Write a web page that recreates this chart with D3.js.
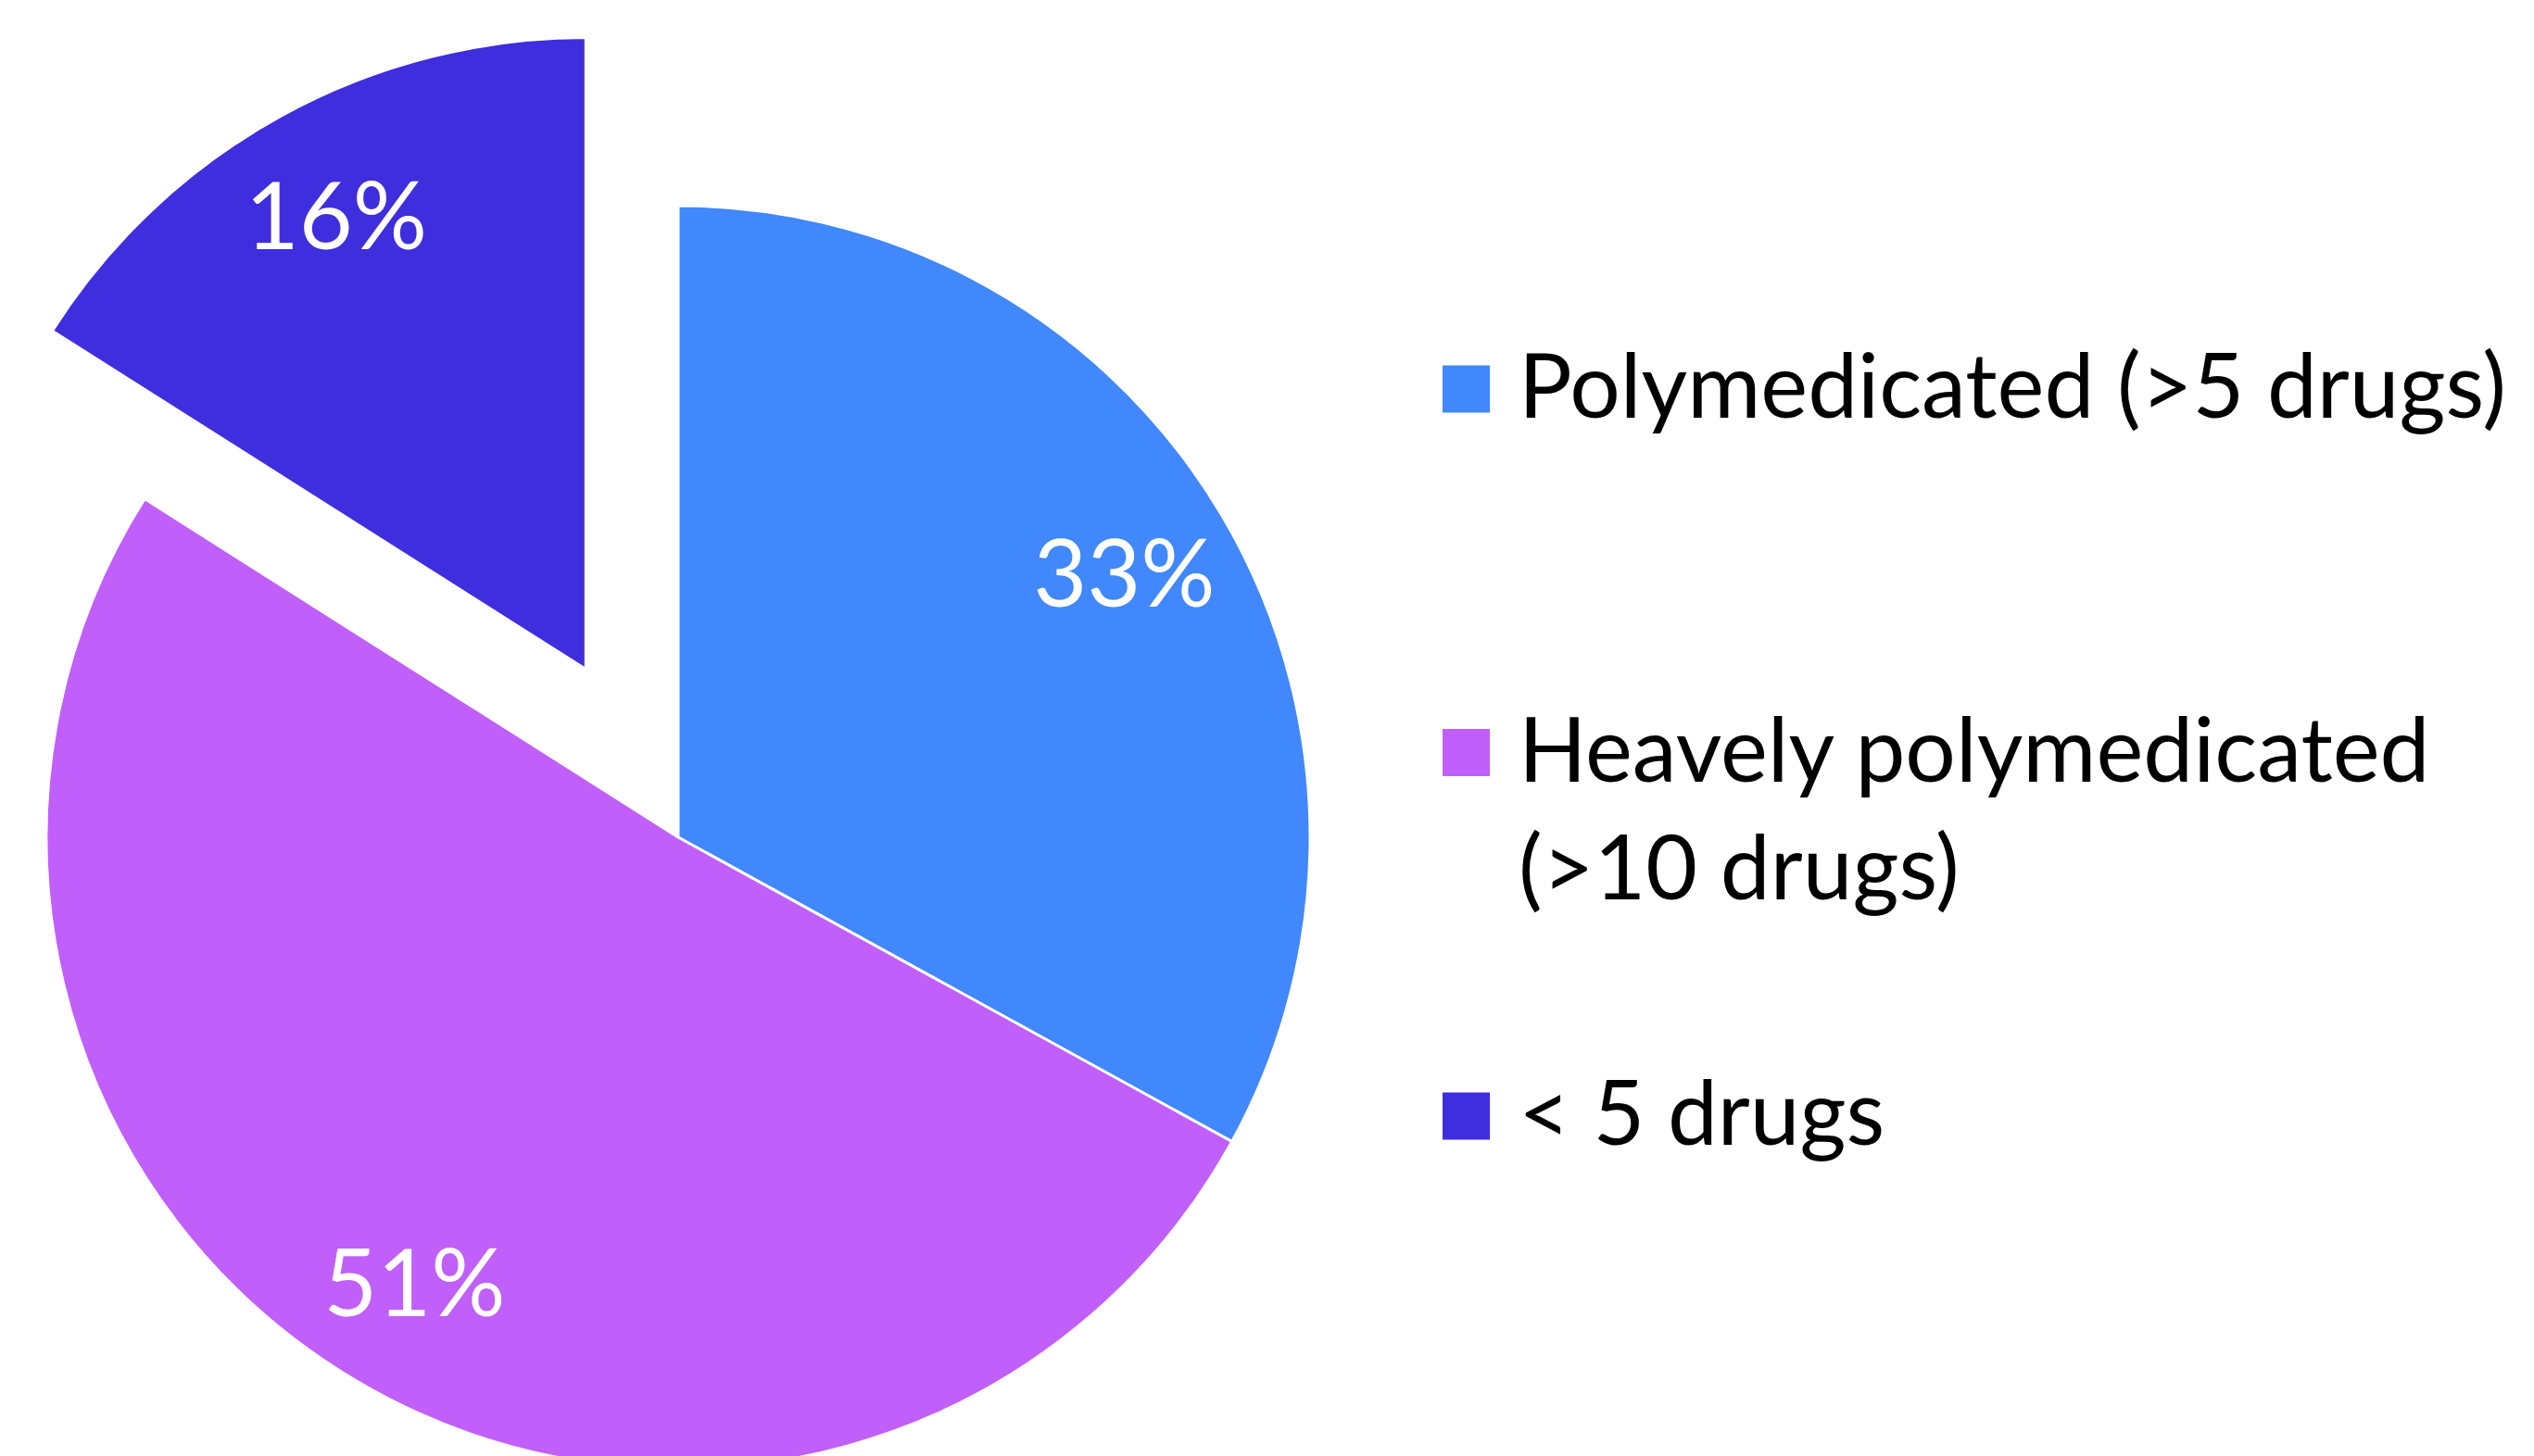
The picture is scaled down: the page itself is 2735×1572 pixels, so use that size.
<!DOCTYPE html>
<html>
<head>
<meta charset="utf-8">
<script src="https://cdn.jsdelivr.net/npm/d3@7"></script>
<style>
  html, body { margin: 0; padding: 0; background: white; }
  svg { display: block; }
</style>
</head>
<body>
<svg></svg>
<script>
const categories = [
    ["Polymedicated (>5 drugs)"],
    ["Heavely polymedicated", "(>10 drugs)"],
    ["< 5 drugs"]
];
const values = [33, 51, 16];
const colors = ["#4088fb", "#c05ffa", "#3f2edd"];
const exploded = [false, false, true];

const w = 2735;
const h = 1572;

const svg = d3.select("svg")
    .attr("width", w)
    .attr("height", h)
    .attr("viewBox", [0, 0, w, h]);

svg.append("rect").attr("width", w).attr("height", h).attr("fill", "white");

const cx = 732, cy = 904;
const r = 682;
const explodeBy = 207;
const font = "Lato, 'Open Sans', sans-serif";

const pie = d3.pie().sort(null).value(d => d)(values);
const arc = d3.arc().innerRadius(0).outerRadius(r);
const labelArc = d3.arc().innerRadius(r * 0.82).outerRadius(r * 0.82);

// push a slice out along its mid angle
const offset = (d, i) => {
    if (!exploded[i]) return [0, 0];
    const a = (d.startAngle + d.endAngle) / 2;
    return [Math.sin(a) * explodeBy, -Math.cos(a) * explodeBy];
};

const g = svg.append("g").attr("transform", `translate(${cx},${cy})`);

g.selectAll("path.slice")
    .data(pie)
    .join("path")
    .attr("class", "slice")
    .attr("d", arc)
    .attr("transform", (d, i) => `translate(${offset(d, i)})`)
    .attr("fill", (d, i) => colors[i])
    .attr("stroke", "white")
    .attr("stroke-width", 3)
    .attr("stroke-linejoin", "round");

// legend, font size fitted so the first entry matches the reference width
const legendX = 1557;
const legendTop = 420;
const legendStep = 392.5;
const box = 51;

const probe = svg.append("text")
    .attr("font-family", font)
    .attr("font-size", 100)
    .text(categories[0][0]);
const fs = 100 * 1066 / probe.node().getComputedTextLength();
probe.remove();

const legend = svg.append("g");

const item = legend.selectAll("g.item")
    .data(categories)
    .join("g")
    .attr("class", "item")
    .attr("transform", (d, i) => `translate(${legendX},${legendTop + i * legendStep})`);

item.append("rect")
    .attr("x", 0)
    .attr("y", -box / 2)
    .attr("width", box)
    .attr("height", box)
    .attr("fill", (d, i) => colors[i]);

item.append("text")
    .attr("font-family", font)
    .attr("font-size", fs)
    .attr("fill", "#000")
    .attr("y", 31)
    .selectAll("tspan")
    .data(d => d)
    .join("tspan")
    .attr("x", 82)
    .attr("dy", (d, i) => i === 0 ? 0 : 127)
    .text(d => d);

// percentage labels
g.selectAll("text.pct")
    .data(pie)
    .join("text")
    .attr("class", "pct")
    .attr("transform", (d, i) => {
        const [ox, oy] = offset(d, i);
        const [lx, ly] = labelArc.centroid(d);
        return `translate(${lx + ox},${ly + oy})`;
    })
    .attr("text-anchor", "middle")
    .attr("dy", "0.36em")
    .attr("font-family", font)
    .attr("font-size", fs * 1.04)
    .attr("fill", "white")
    .text(d => d.value + "%");
</script>
</body>
</html>
